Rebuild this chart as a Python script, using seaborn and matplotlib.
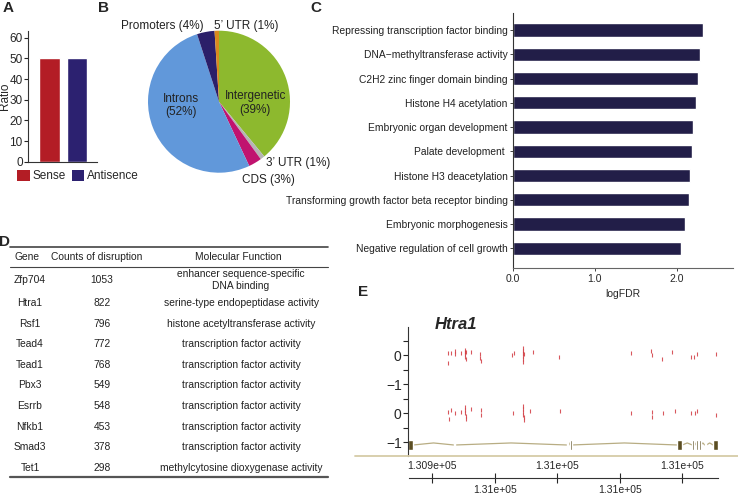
import matplotlib
matplotlib.use("Agg")
import matplotlib.pyplot as plt
import seaborn as sns
from matplotlib.patches import Patch
from matplotlib.lines import Line2D

# ---- data ----
strand_names = ["Sense", "Antisence"]
strand_ratio = [50, 50]
strand_colors = ["#B31D25", "#2C2170"]

region_names = ["Intergenetic", "3\u2019 UTR", "CDS", "Introns", "Promoters", "5\u2019 UTR"]
region_pct = [39, 1, 3, 52, 4, 1]
region_colors = ["#8DB92E", "#B5B5B5", "#C0136F", "#6198DA", "#2B1F69", "#D98A1F"]

go_terms = ["Repressing transcription factor binding",
            "DNA\u2212methyltransferase activity",
            "C2H2 zinc finger domain binding",
            "Histone H4 acetylation",
            "Embryonic organ development",
            "Palate development ",
            "Histone H3 deacetylation",
            "Transforming growth factor beta receptor binding",
            "Embryonic morphogenesis",
            "Negative regulation of cell growth"]
go_logfdr = [2.32, 2.28, 2.25, 2.23, 2.19, 2.18, 2.16, 2.14, 2.09, 2.05]

genes = ["Zfp704", "Htra1", "Rsf1", "Tead4", "Tead1", "Pbx3", "Esrrb", "Nfkb1", "Smad3", "Tet1"]
counts = [1053, 822, 796, 772, 768, 549, 548, 453, 378, 298]
functions = ["enhancer sequence-specific\nDNA binding",
             "serine-type endopeptidase activity",
             "histone acetyltransferase activity",
             "transcription factor activity",
             "transcription factor activity",
             "transcription factor activity",
             "transcription factor activity",
             "transcription factor activity",
             "transcription factor activity",
             "methylcytosine dioxygenase activity"]

# insertion sites on the Htra1 locus, two tracks (position, vertical jitter)
track1_pos = [130913, 130913, 130916, 130919, 130919, 130924, 130927, 130927, 130927, 130927,
              130928, 130928, 130932, 130939, 130939, 130940, 130964, 130966, 130973, 130973,
              130973, 130973, 130973, 130973, 130974, 130981, 131002, 131059, 131075, 131076,
              131084, 131092, 131107, 131109, 131112, 131127]
track1_off = [0.07, -0.28, 0.08, 0.15, 0.05, 0.08, 0.17, 0.10, 0.03, -0.05,
              -0.12, 0.12, 0.12, 0.05, -0.10, -0.20, 0.0, 0.07, 0.24, 0.15,
              0.07, -0.02, -0.12, -0.25, 0.05, 0.10, -0.05, 0.08, 0.15, 0.02,
              -0.12, 0.12, -0.05, -0.05, 0.03, 0.03]
track2_pos = [130913, 130914, 130916, 130919, 130924, 130927, 130927, 130927, 130928, 130928,
              130932, 130940, 130940, 130965, 130973, 130973, 130973, 130973, 130974, 130974,
              130979, 131003, 131059, 131076, 131076, 131085, 131094, 131107, 131110, 131112,
              131127]
track2_off = [0.05, -0.20, 0.10, 0.0, 0.05, 0.20, 0.10, 0.0, -0.10, -0.20,
              0.15, 0.10, -0.08, 0.0, 0.25, 0.15, 0.05, -0.05, -0.15, -0.25,
              0.08, 0.08, 0.0, 0.03, -0.12, 0.0, 0.06, 0.02, 0.02, 0.08,
              -0.05]
exon_start = [130881.7, 130918.0, 131008.0, 131010.6, 131096.0, 131108.0, 131111.0, 131113.5, 131118.0, 131124.6]
exon_end = [130885.7, 130919.3, 131009.2, 131011.8, 131100.0, 131109.3, 131112.3, 131114.8, 131119.2, 131128.4]
scale_ticks = [130900, 130950, 131000, 131050, 131100]
scale_top_labels = ["1.309e+05", "", "1.31e+05", "", "1.31e+05"]
scale_bottom_labels = ["", "1.31e+05", "", "1.31e+05", ""]

# ---- figure ----
sns.set_style("white")
plt.rcParams['font.family'] = ['Liberation Sans', 'DejaVu Sans']
plt.rcParams['axes.edgecolor'] = '#333333'

W, H = 738, 495
fig = plt.figure(figsize=(W / 100, H / 100), dpi=100)


def px_axes(l, t, w, h):
    return fig.add_axes([l / W, 1 - (t + h) / H, w / W, h / H])


def letter(x, y, s):
    fig.text(x / W, 1 - y / H, s, fontsize=11, fontweight='bold',
             ha='center', va='center')


# A: strand ratio
axA = px_axes(28.3, 30.7, 69, 131)
sns.barplot(x=strand_names, y=strand_ratio, hue=strand_names, palette=strand_colors,
            width=0.76, saturation=1, legend=False, ax=axA)
axA.set_xlim(-0.78, 1.74)
axA.set_ylim(0, 63.4)
axA.set_yticks(range(0, 61, 10))
axA.set_xticks([])
axA.set_xlabel("")
axA.set_ylabel("Ratio", fontsize=8.5)
axA.yaxis.set_label_coords(-0.25, 0.5)
axA.tick_params(axis='y', left=True, length=3, width=0.8, labelsize=8.5, pad=1)
sns.despine(ax=axA)
fig.legend(handles=[Patch(facecolor=c, edgecolor='none', label=n)
                    for n, c in zip(strand_names, strand_colors)],
           loc='upper left', bbox_to_anchor=(17 / W, 1 - 170 / H), ncol=2, frameon=False,
           fontsize=8.5, handlelength=1.1, handleheight=1.0, handletextpad=0.2,
           columnspacing=0.5, borderpad=0, borderaxespad=0)
letter(7.7, 8.3, "A")

# B: genomic regions pie
axB = px_axes(148, 30.7, 142, 142)
axB.pie(region_pct, colors=region_colors, startangle=90, counterclock=False,
        wedgeprops=dict(linewidth=0))
axB.set_xlim(-1, 1)
axB.set_ylim(-1, 1)
axB.set_aspect('equal')
pie_labels = [("Intergenetic\n(39%)", 0.51, -0.02),
              ("Introns\n(52%)", -0.53, -0.05),
              ("Promoters (4%)", -0.80, 1.07),
              ("5\u2019 UTR (1%)", 0.39, 1.07),
              ("3\u2019 UTR (1%)", 1.11, -0.87),
              ("CDS (3%)", 0.70, -1.10)]
for s, x, y in pie_labels:
    axB.text(x, y, s, fontsize=8.5, ha='center', va='center', color='#222222', linespacing=1.15)
letter(104, 8, "B")

# C: GO enrichment
axC = px_axes(512.7, 13, 220.3, 255)
sns.barplot(x=go_logfdr, y=go_terms, orient='h', color='#221E48', width=0.55,
            saturation=1, ax=axC)
axC.set_xlim(0, 2.68)
axC.set_ylim(9.81, -0.70)
axC.set_xticks([0, 1, 2])
axC.set_xticklabels(["0.0", "1.0", "2.0"])
axC.set_xlabel("logFDR", fontsize=7.5, labelpad=4)
axC.set_ylabel("")
axC.tick_params(axis='y', left=True, length=2.5, width=0.6, labelsize=7.4, pad=1, labelcolor='#222222')
axC.tick_params(axis='x', bottom=True, length=2, width=0.6, labelsize=7.5, pad=2)
sns.despine(ax=axC)
axC.spines['bottom'].set_color('#666666')
letter(316, 8, "C")

# D: table
axD = px_axes(0, 230, 345, 260)
axD.set_xlim(0, 345)
axD.set_ylim(490, 230)
axD.axis('off')
col_x = [30, 102, 241]
for x, s in zip([27, 97, 238], ["Gene", "Counts of disruption", "Molecular Function"]):
    axD.text(x, 257, s, fontsize=7.4, ha='center', va='center', color='#222222')
axD.plot([10, 328], [247, 247], color='#444444', lw=1.2)
axD.plot([10, 328], [267, 267], color='#444444', lw=0.8)
axD.plot([10, 328], [477, 477], color='#555555', lw=1.6)
row_y = [280] + [303 + 20.6 * k for k in range(len(genes) - 1)]
for y, g, c, f in zip(row_y, genes, counts, functions):
    axD.text(col_x[0], y, g, fontsize=7.4, ha='center', va='center', color='#222222')
    axD.text(col_x[1], y, str(c), fontsize=7.4, ha='center', va='center', color='#222222')
    axD.text(col_x[2], y, f, fontsize=7.4, ha='center', va='center', color='#222222',
             linespacing=1.2)
letter(5, 242, "D")

# E: insertion tracks on Htra1
xmin, xmax = 130881.5, 131128.5
axE = px_axes(408, 327, 310, 129)
axE.set_xlim(xmin, xmax)
axE.set_ylim(-3.48, 0.97)
axE.plot(track1_pos, [0 + o for o in track1_off], '|', color='#D23A40', ms=2.6, mew=0.8, alpha=0.85)
axE.plot(track2_pos, [-2 + o for o in track2_off], '|', color='#D23A40', ms=2.6, mew=0.8, alpha=0.85)
# gene model: introns with small chevrons, exons as boxes
gy = -3.1
line_x, line_y = [], []
for i in range(len(exon_start) - 1):
    a, b = exon_end[i], exon_start[i + 1]
    line_x += [a, (a + b) / 2, b]
    line_y += [gy, gy + 0.07, gy]
axE.plot(line_x, line_y, color='#B8AD83', lw=0.9, zorder=1)
axE.broken_barh([(s, e - s) for s, e in zip(exon_start, exon_end)], (gy - 0.16, 0.32),
                facecolors='#5B4E22', zorder=2)
axE.set_xticks([])
axE.set_yticks([0, -1, -2, -3])
axE.set_yticklabels(["0", "\u22121", "0", "\u22121"])
axE.set_yticks([0.5, -0.5, -1.5, -2.5], minor=True)
axE.tick_params(axis='y', which='both', left=True, length=3.5, width=0.8, labelsize=10, pad=1)
sns.despine(ax=axE, bottom=True)
axE.text(0.155, 1.02, "Htra1", transform=axE.transAxes, fontsize=12, fontweight='bold',
         style='italic', ha='center', va='center')
fig.add_artist(Line2D([355 / W, 1.0], [1 - 456 / H, 1 - 456 / H], color='#D5CBA7', lw=1.3))
letter(363, 291.5, "E")

# E: coordinate scale, labels alternating above and below
axS = px_axes(409, 477.7, 309, 0.6)
axS.set_xlim(xmin, xmax)
axS.set_ylim(0, 1)
axS.set_yticks([])
axS.set_xticks(scale_ticks)
axS.set_xticklabels(scale_bottom_labels)
axS.tick_params(axis='x', bottom=True, direction='inout', length=7, width=0.8, labelsize=7.5, pad=1.5)
for side in ['top', 'left', 'right']:
    axS.spines[side].set_visible(False)
axS.spines['bottom'].set_color('#333333')
top = axS.secondary_xaxis('top')
top.set_xticks(scale_ticks)
top.set_xticklabels(scale_top_labels)
top.tick_params(axis='x', length=0, labelsize=7.5, pad=5)
top.spines['top'].set_visible(False)

fig.savefig("out.png", dpi=100)
